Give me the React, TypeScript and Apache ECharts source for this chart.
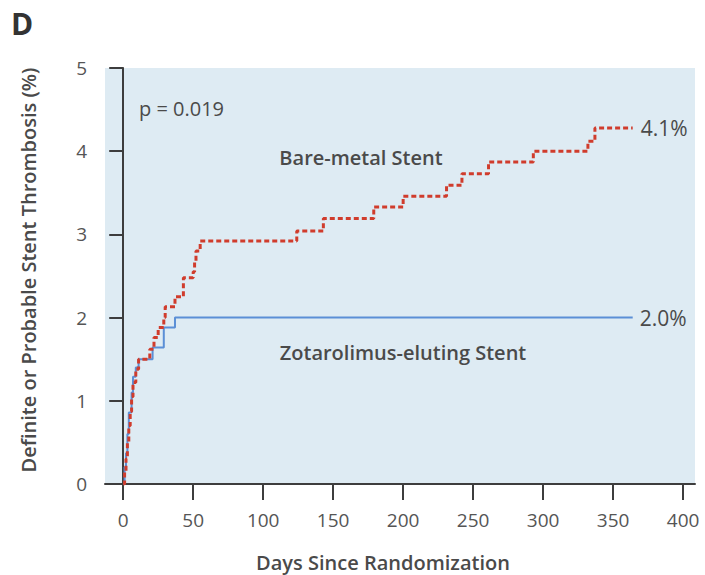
import React, { useEffect, useRef } from "react";
import * as echarts from "echarts";

const panelLabel = "D";
const pValueText = "p = 0.019";
const xAxisTitle = "Days Since Randomization";
const yAxisTitle = "Definite or Probable Stent Thrombosis (%)";
const xTickValues = [0, 50, 100, 150, 200, 250, 300, 350, 400];
const yTickValues = [0, 1, 2, 3, 4, 5];
const seriesNames = ["Bare-metal Stent", "Zotarolimus-eluting Stent"];
const endLabels = ["4.1%", "2.0%"];

const bmsDays = [0, 1, 2, 3, 4, 5, 6, 7, 9, 11, 19, 22, 25, 29, 30, 37, 43, 50, 51, 52, 55, 124, 143, 179, 200, 231, 242, 261, 293, 332, 337, 364];
const bmsValues = [0, 0.15, 0.3, 0.5, 0.7, 0.87, 1.05, 1.22, 1.38, 1.5, 1.62, 1.76, 1.88, 2.0, 2.13, 2.25, 2.48, 2.55, 2.67, 2.8, 2.92, 3.04, 3.19, 3.33, 3.46, 3.59, 3.73, 3.87, 4.0, 4.12, 4.28, 4.28];

const zesDays = [0, 1, 2, 3, 4, 6, 7, 9, 11, 21, 29, 37, 364];
const zesValues = [0, 0.2, 0.37, 0.6, 0.86, 1.1, 1.29, 1.4, 1.5, 1.64, 1.88, 2.0, 2.0];

const FONT = "Open Sans";
const TEXT = "#4a4a4a";

export default function App() {
  const ref = useRef<HTMLDivElement>(null);
  useEffect(() => {
    if (!ref.current) return;
    const chart = echarts.init(ref.current, undefined, { renderer: "svg" });
    const bmsData = bmsDays.map((d, i) => [d, bmsValues[i]]);
    const zesData = zesDays.map((d, i) => [d, zesValues[i]]);
    chart.setOption({
      animation: false,
      backgroundColor: "#ffffff",
      textStyle: { fontFamily: FONT },
      grid: {
        left: 105,
        right: 10,
        top: 68,
        bottom: 91,
        show: true,
        backgroundColor: "#deebf3",
        borderWidth: 0,
      },
      xAxis: {
        type: "value",
        min: -13,
        max: 408.5,
        splitLine: { show: false },
        axisLine: { show: true, lineStyle: { color: "#3d3d3d", width: 2 } },
        axisTick: {
          show: true,
          customValues: xTickValues,
          length: 16,
          lineStyle: { color: "#3d3d3d", width: 2 },
        },
        axisLabel: {
          customValues: xTickValues,
          margin: 26,
          fontSize: 19,
          color: "#555555",
          fontFamily: FONT,
        },
      },
      yAxis: {
        type: "value",
        min: 0,
        max: 5,
        interval: 1,
        splitLine: { show: false },
        axisLine: { show: true, lineStyle: { color: "#3d3d3d", width: 2 } },
        axisTick: {
          show: true,
          customValues: yTickValues,
          length: 14,
          lineStyle: { color: "#3d3d3d", width: 2 },
        },
        axisLabel: {
          margin: 18,
          fontSize: 19,
          color: "#555555",
          fontFamily: FONT,
        },
      },
      series: [
        {
          name: seriesNames[0],
          type: "line",
          step: "end",
          symbol: "none",
          data: bmsData,
          z: 3,
          lineStyle: { color: "#d03c2c", width: 3, type: [5, 3] },
          endLabel: {
            show: true,
            formatter: () => endLabels[0],
            distance: 8,
            fontSize: 21,
            color: TEXT,
            fontFamily: FONT,
          },
        },
        {
          name: seriesNames[1],
          type: "line",
          step: "end",
          symbol: "none",
          data: zesData,
          z: 2,
          lineStyle: { color: "#5b8fd6", width: 2 },
          endLabel: {
            show: true,
            formatter: () => endLabels[1],
            distance: 7,
            fontSize: 21,
            color: TEXT,
            fontFamily: FONT,
          },
        },
      ],
      graphic: [
        {
          type: "text",
          left: 11,
          top: 8,
          style: { text: panelLabel, fontSize: 30, fontWeight: "bold", fill: "#333333", fontFamily: FONT },
        },
        {
          type: "text",
          x: 139,
          y: 108,
          style: { text: pValueText, fontSize: 20, fill: TEXT, fontFamily: FONT, textVerticalAlign: "middle" },
        },
        {
          type: "text",
          x: 361,
          y: 157,
          style: { text: seriesNames[0], fontSize: 20, fontWeight: 600, fill: TEXT, fontFamily: FONT, textAlign: "center", textVerticalAlign: "middle" },
        },
        {
          type: "text",
          x: 403,
          y: 352,
          style: { text: seriesNames[1], fontSize: 20, fontWeight: 600, fill: TEXT, fontFamily: FONT, textAlign: "center", textVerticalAlign: "middle" },
        },
        {
          type: "text",
          x: 383,
          y: 562,
          style: { text: xAxisTitle, fontSize: 20, fontWeight: 600, fill: TEXT, fontFamily: FONT, textAlign: "center", textVerticalAlign: "middle" },
        },
        {
          type: "text",
          x: 28,
          y: 270,
          rotation: Math.PI / 2,
          style: { text: yAxisTitle, fontSize: 20, fontWeight: 600, fill: TEXT, fontFamily: FONT, textAlign: "center", textVerticalAlign: "middle" },
        },
      ],
    });
    return () => chart.dispose();
  }, []);
  return (
    <div
      ref={ref}
      style={{ position: "fixed", left: 0, top: 0, width: 705, height: 575 }}
    />
  );
}
